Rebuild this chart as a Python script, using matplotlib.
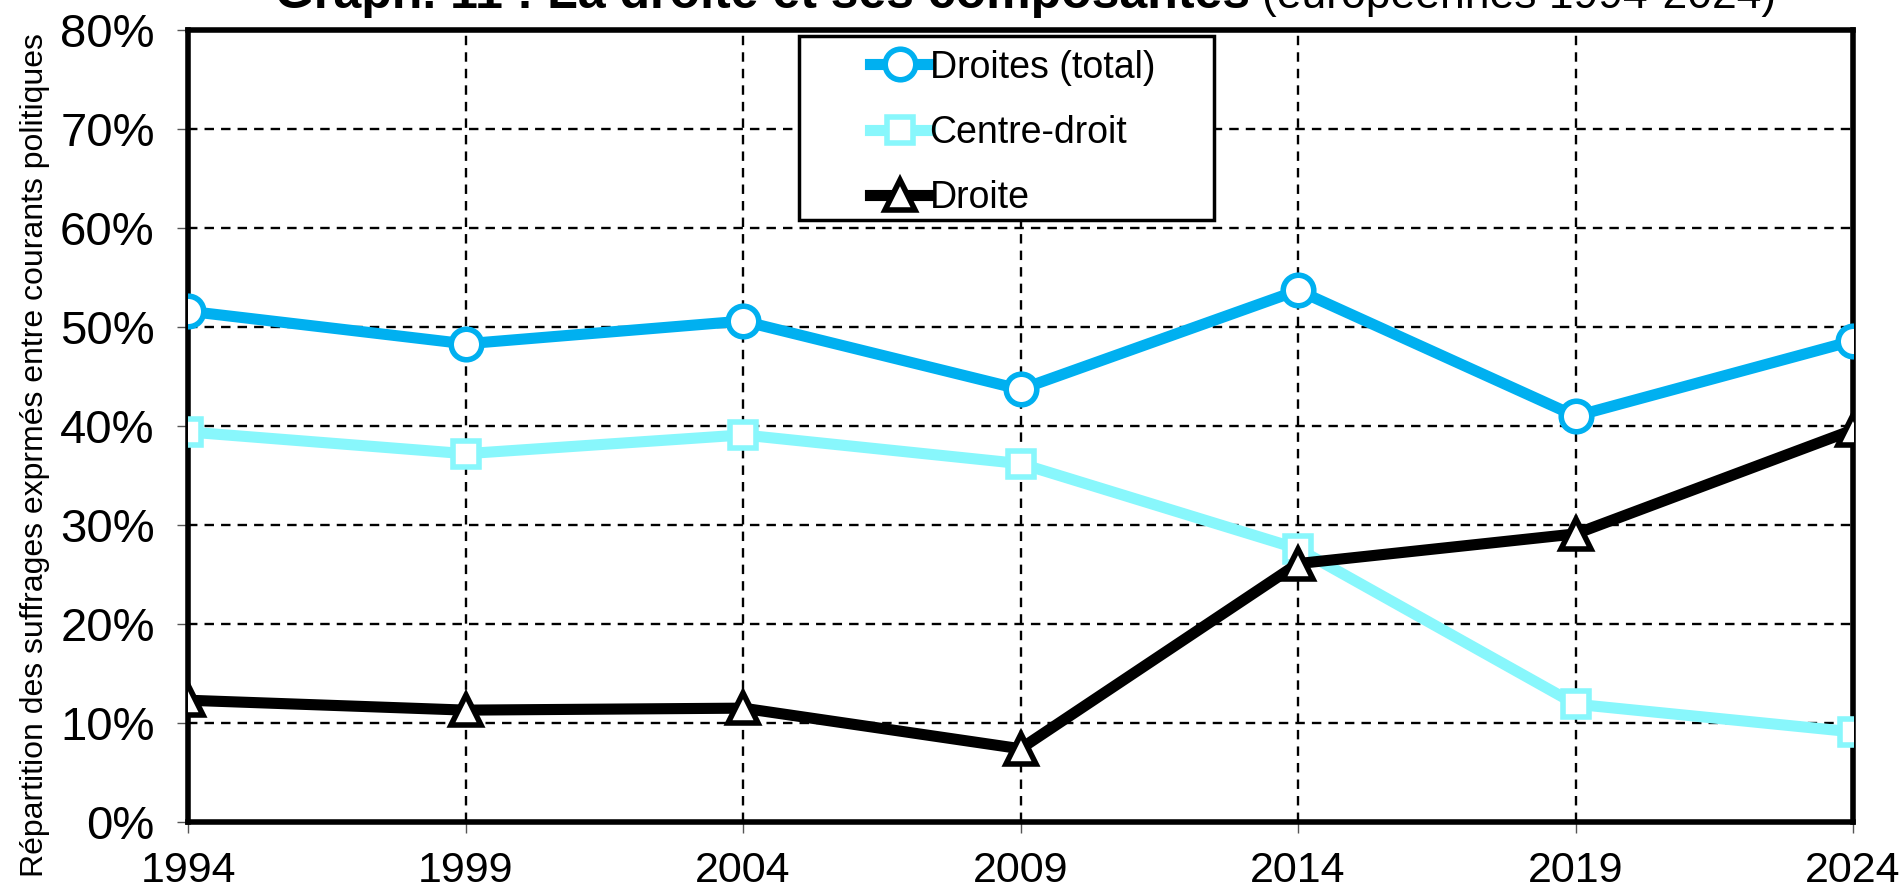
import matplotlib
matplotlib.use("Agg")
import matplotlib.pyplot as plt
import matplotlib.ticker as ticker
from matplotlib.patches import Rectangle

plt.rcParams['font.family'] = ['Liberation Sans', 'DejaVu Sans']

# données
annees = [1994, 1999, 2004, 2009, 2014, 2019, 2024]
droites_total = [51.6, 48.3, 50.6, 43.7, 53.7, 41.0, 48.6]
centre_droit = [39.4, 37.2, 39.1, 36.2, 27.6, 11.9, 9.1]
droite = [12.3, 11.3, 11.5, 7.4, 26.1, 29.1, 39.6]

W, H = 1903, 890
fig = plt.figure(figsize=(W / 100, H / 100), dpi=100)
ax = fig.add_axes([188 / W, 1 - 822 / H, 1665 / W, 792 / H])

ax.plot(annees, droites_total, color='#00B0F0', lw=8, marker='o', ms=22,
        mfc='white', mec='#00B0F0', mew=4, label='Droites (total)', zorder=5)
ax.plot(annees, centre_droit, color='#88F7FC', lw=8, marker='s', ms=19,
        mfc='white', mec='#88F7FC', mew=4, label='Centre-droit', zorder=4)
ax.plot(annees, droite, color='black', lw=8, marker='^', ms=21,
        mfc='white', mec='black', mew=4, label='Droite', zorder=6)

ax.set_xlim(1994, 2024)
ax.set_ylim(0, 80)
ax.set_xticks(annees)
ax.set_yticks(range(0, 81, 10))
ax.yaxis.set_major_formatter(ticker.FuncFormatter(lambda v, p: '%d%%' % v))
ax.tick_params(axis='y', labelsize=34, length=8, width=1, pad=16, color='#555555')
ax.tick_params(axis='x', labelsize=31, length=8, width=1, pad=13, color='#555555')

ax.grid(True, color='black', linestyle=(0, (4, 3)), linewidth=1.7)
ax.set_axisbelow(True)
for s in ax.spines.values():
    s.set_linewidth(4)
    s.set_color('black')

ax.set_ylabel('Répartition des suffrages exprmés entre courants politiques',
              fontsize=23)
ax.yaxis.set_label_coords(-138 / 1665, 0.463)

# cadre de la légende (plus large que son contenu)
cadre = Rectangle((799 / W, 1 - 220 / H), 415 / W, 184 / H, transform=fig.transFigure,
                  facecolor='white', edgecolor='black', linewidth=2.5, zorder=10)
fig.patches.append(cadre)
leg = fig.legend(loc='upper left', bbox_to_anchor=(862 / W, 1 - 42 / H), fontsize=27,
                 frameon=False, handlelength=1.6, handletextpad=0.0,
                 borderpad=0.2, labelspacing=0.78, borderaxespad=0,
                 handles=ax.get_lines())
leg.set_zorder(11)

# titre coupé en haut, comme sur l'original
fig.text(1250 / W, 1 - 8 / H, 'Graph. 11 : La droite et ses composantes',
         ha='right', va='baseline', fontsize=36, fontweight='bold')
fig.text(1262 / W, 1 - 8 / H, '(européennes 1994-2024)',
         ha='left', va='baseline', fontsize=32)

fig.savefig('out.png', dpi=100)
